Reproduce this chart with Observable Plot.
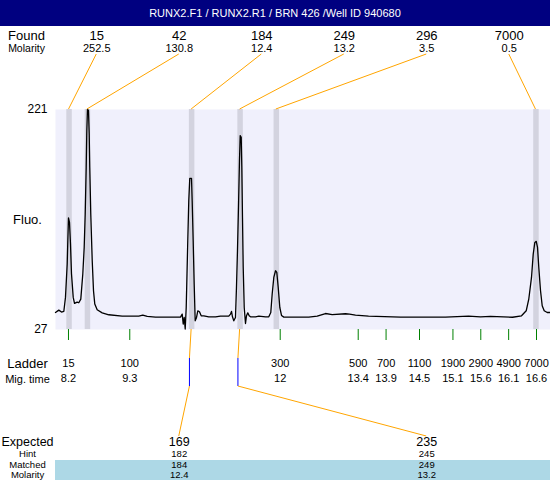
<!DOCTYPE html>
<html><head><meta charset="utf-8">
<script src="https://cdn.jsdelivr.net/npm/d3@7"></script>
<script src="https://cdn.jsdelivr.net/npm/@observablehq/plot@0.6"></script>
<style>
body{margin:0;background:#fff;font-family:"Liberation Sans",Arial,sans-serif;}
#title{width:550px;height:26px;background:#000080;color:#fff;font-size:11px;line-height:27px;text-align:center;}
#chart svg{display:block;}
</style></head><body>
<div id="title">RUNX2.F1 / RUNX2.R1 / BRN 426 /Well ID 940680</div>
<div id="chart"></div>
<script>
const timeRange = [7.967, 16.851];
const fluoRange = [27, 221];
const foundSizes = [15, 42, 184, 249, 296, 7000];
const foundMolarity = [252.5, 130.8, 12.4, 13.2, 3.5, 0.5];
const foundTimes = [8.21, 8.54, 10.41, 11.28, 11.93, 16.59];
const ladderSizes = [15, 100, 300, 500, 700, 1100, 1900, 2900, 4900, 7000];
const ladderTimes = [8.2, 9.3, 12, 13.4, 13.9, 14.5, 15.1, 15.6, 16.1, 16.6];
const expectedSizes = [169, 235];
const hintSizes = [182, 245];
const matchedSizes = [184, 249];
const matchedMolarity = [12.4, 13.2];
const matchedTimes = [10.41, 11.28];
const hintTimes = [10.38, 11.25];
const traceTime = [7.967,8.026,8.075,8.116,8.146,8.177,8.188,8.200,8.218,8.236,8.254,8.285,8.308,8.356,8.385,8.421,8.457,8.482,8.500,8.518,8.529,8.541,8.559,8.572,8.582,8.600,8.626,8.649,8.672,8.715,8.805,8.924,9.164,9.462,9.534,9.613,9.762,10.210,10.241,10.259,10.277,10.295,10.313,10.323,10.341,10.359,10.377,10.408,10.420,10.438,10.456,10.474,10.498,10.521,10.551,10.582,10.629,10.718,10.839,10.928,11.077,11.108,11.126,11.143,11.167,11.197,11.215,11.233,11.251,11.269,11.282,11.300,11.311,11.323,11.336,11.354,11.377,11.395,11.418,11.443,11.467,11.557,11.616,11.736,11.795,11.831,11.856,11.885,11.916,11.939,11.964,11.993,12.023,12.065,12.275,12.513,12.664,12.813,12.933,13.172,13.244,13.351,13.585,14.159,14.967,15.380,15.595,15.775,16.169,16.331,16.415,16.462,16.510,16.541,16.570,16.595,16.618,16.641,16.672,16.702,16.738,16.792,16.851];
const traceFluo = [42.0,44.1,42.4,42.9,55.3,84.7,105.3,125.4,121.5,102.4,76.2,55.3,50.0,51.2,50.6,53.8,75.9,99.4,128.9,170.0,202.5,221.0,220.1,199.5,170.0,128.9,87.7,61.2,49.4,44.4,41.7,40.0,38.8,38.8,39.7,38.5,37.9,37.9,40.6,31.8,37.6,27.4,46.4,67.1,105.3,140.6,160.3,160.3,140.6,105.3,67.1,34.7,37.6,43.5,42.6,39.1,39.1,38.2,38.2,38.8,38.8,40.6,42.9,38.2,34.7,37.6,64.1,96.5,134.7,176.0,198.0,196.5,170.0,125.9,81.7,46.4,32.3,39.1,41.7,39.1,38.2,38.2,38.8,38.2,38.2,42.0,58.3,72.9,78.8,77.3,64.1,46.4,39.4,37.9,37.9,37.9,38.8,41.1,40.2,40.9,40.6,39.7,38.8,37.9,37.9,38.8,38.2,38.6,37.8,39.1,43.5,54.1,72.9,93.6,103.8,104.7,99.4,81.7,61.2,47.9,43.5,42.0,42.0];

const trace = traceTime.map((t, i) => ({time: t, fluo: traceFluo[i]}));
const sizeByTime = new Map(ladderTimes.map((t, i) => [t, ladderSizes[i]]));
const slot = (i, n) => timeRange[0] + (i + 0.5) / n * (timeRange[1] - timeRange[0]);
const ORANGE = "#ffa500";

const guides = (index, {x}, values, {width, height, marginTop, marginBottom, marginLeft}) => {
  const top = marginTop, bottom = height - marginBottom;
  const g = d3.create("svg:g").attr("fill", "none").attr("stroke-width", 1);
  g.append("rect").attr("x", marginLeft).attr("y", height - 20)
    .attr("width", width - marginLeft).attr("height", 20).attr("fill", "#add8e6");
  foundTimes.forEach((t, i) => {
    g.append("line").attr("x1", x(slot(i, 6))).attr("y1", top - 55)
      .attr("x2", x(t)).attr("y2", top).attr("stroke", ORANGE);
  });
  matchedTimes.forEach((t, i) => {
    const xh = x(hintTimes[i]);
    g.append("line").attr("x1", x(t)).attr("y1", bottom).attr("x2", xh).attr("y2", bottom + 29).attr("stroke", ORANGE);
    g.append("line").attr("x1", xh).attr("y1", bottom + 29).attr("x2", xh).attr("y2", bottom + 57).attr("stroke", "#0000ff");
    g.append("line").attr("x1", xh).attr("y1", bottom + 57).attr("x2", x(slot(i, 2))).attr("y2", bottom + 107).attr("stroke", ORANGE);
  });
  return g.node();
};

const chart = Plot.plot({
  width: 550, height: 454,
  marginLeft: 55, marginRight: 0, marginTop: 83, marginBottom: 151,
  x: {domain: timeRange},
  y: {domain: fluoRange},
  style: {fontFamily: "'Liberation Sans', Arial, sans-serif", fontSize: "11px", background: "white", overflow: "visible", color: "black"},
  marks: [
    Plot.frame({fill: "#f0f0fc", stroke: "none"}),
    Plot.ruleX(foundTimes, {x: d => d, stroke: "#d3d3df", strokeWidth: 5.5}),
    Plot.line(trace, {x: "time", y: "fluo", stroke: "black", strokeWidth: 1.3}),
    guides,
    Plot.axisY(fluoRange, {tickSize: 0, tickPadding: 8, fontSize: 12, label: null, fill: "black"}),
    Plot.text(["Fluo."], {frameAnchor: "left", dx: -28, textAnchor: "middle", fontSize: 13, fill: "black"}),
    Plot.axisX(ladderTimes, {tickSize: 11, tickPadding: 19, stroke: "#008000", fill: "black", fontSize: 11, tickFormat: d => String(sizeByTime.get(d)), label: null}),
    Plot.axisX(ladderTimes, {tickSize: 0, tickPadding: 45, fill: "black", fontSize: 11, tickFormat: d => String(d), label: null}),
    Plot.text(["Ladder"], {frameAnchor: "bottom-left", dx: -28, dy: 38.5, lineAnchor: "bottom", textAnchor: "middle", fontSize: 13, fill: "black"}),
    Plot.text(["Mig. time"], {frameAnchor: "bottom-left", dx: -28, dy: 53.5, lineAnchor: "bottom", textAnchor: "middle", fontSize: 11, fill: "black"}),
    Plot.text(["Found"], {frameAnchor: "top-left", dx: -29, dy: -70, lineAnchor: "bottom", textAnchor: "middle", fontSize: 13, fill: "black"}),
    Plot.text(["Molarity"], {frameAnchor: "top-left", dx: -29, dy: -58, lineAnchor: "bottom", textAnchor: "middle", fontSize: 10.5, fill: "black"}),
    Plot.text(foundSizes, {x: (d, i) => slot(i, 6), text: d => String(d), frameAnchor: "top", dy: -70, lineAnchor: "bottom", fontSize: 13, fill: "black"}),
    Plot.text(foundMolarity, {x: (d, i) => slot(i, 6), text: d => String(d), frameAnchor: "top", dy: -58, lineAnchor: "bottom", fontSize: 11, fill: "black"}),
    Plot.text(["Expected"], {frameAnchor: "bottom-left", dx: -28, dy: 116.5, lineAnchor: "bottom", textAnchor: "middle", fontSize: 12.5, fill: "black"}),
    Plot.text(["Hint"], {frameAnchor: "bottom-left", dx: -28, dy: 127.5, lineAnchor: "bottom", textAnchor: "middle", fontSize: 9.5, fill: "black"}),
    Plot.text(["Matched"], {frameAnchor: "bottom-left", dx: -28, dy: 138.1, lineAnchor: "bottom", textAnchor: "middle", fontSize: 9.5, fill: "black"}),
    Plot.text(["Molarity"], {frameAnchor: "bottom-left", dx: -28, dy: 148.8, lineAnchor: "bottom", textAnchor: "middle", fontSize: 9.5, fill: "black"}),
    Plot.text(expectedSizes, {x: (d, i) => slot(i, 2), text: d => String(d), frameAnchor: "bottom", dy: 116.5, lineAnchor: "bottom", fontSize: 12.5, fill: "black"}),
    Plot.text(hintSizes, {x: (d, i) => slot(i, 2), text: d => String(d), frameAnchor: "bottom", dy: 127.5, lineAnchor: "bottom", fontSize: 9.5, fill: "black"}),
    Plot.text(matchedSizes, {x: (d, i) => slot(i, 2), text: d => String(d), frameAnchor: "bottom", dy: 138.1, lineAnchor: "bottom", fontSize: 9.5, fill: "black"}),
    Plot.text(matchedMolarity, {x: (d, i) => slot(i, 2), text: d => String(d), frameAnchor: "bottom", dy: 148.8, lineAnchor: "bottom", fontSize: 9.5, fill: "black"})
  ]
});
document.getElementById("chart").appendChild(chart);
</script></body></html>
